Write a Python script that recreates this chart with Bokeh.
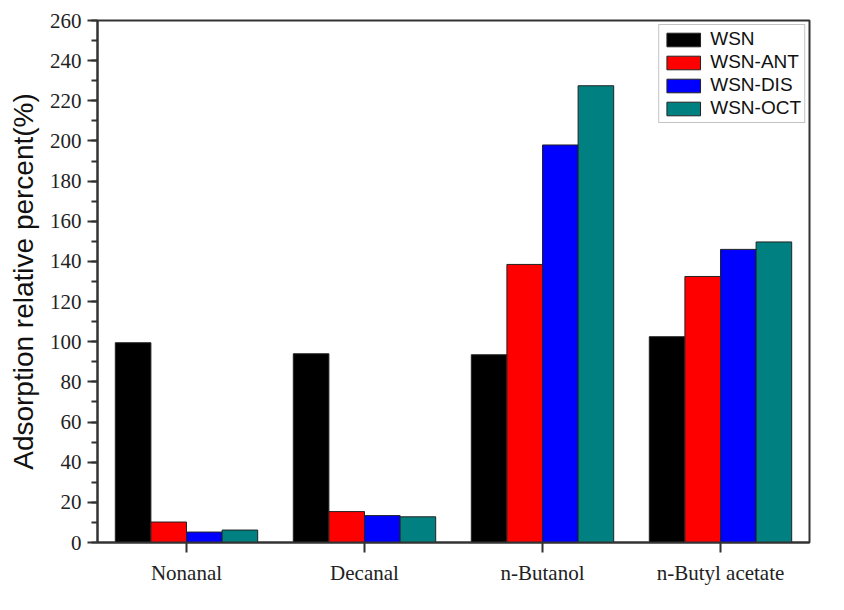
from bokeh.plotting import figure
from bokeh.models import ColumnDataSource, FactorRange, Range1d, Legend, LegendItem, SingleIntervalTicker
from bokeh.transform import dodge
from bokeh.embed import file_html
from bokeh.resources import INLINE

categories = ["Nonanal", "Decanal", "n-Butanol", "n-Butyl acetate"]
series = ["WSN", "WSN-ANT", "WSN-DIS", "WSN-OCT"]
wsn = [99.5, 94.0, 93.5, 102.5]
wsn_ant = [10.2, 15.4, 138.5, 132.5]
wsn_dis = [5.2, 13.4, 198.0, 146.0]
wsn_oct = [6.2, 12.8, 227.5, 149.7]
colors = ["#000000", "#ff0000", "#0000ff", "#008080"]
offsets = [-0.3, -0.1, 0.1, 0.3]

source = ColumnDataSource(data=dict(cat=categories, WSN=wsn, ANT=wsn_ant, DIS=wsn_dis, OCT=wsn_oct))
keys = ["WSN", "ANT", "DIS", "OCT"]

p = figure(width=836, height=600, x_range=FactorRange(*categories, range_padding=0),
           y_range=Range1d(0, 260), output_backend="svg", toolbar_location=None,
           min_border_left=97, min_border_right=27, min_border_top=20, min_border_bottom=58)
p.x_range.range_padding = 0

renderers = []
for k, c, off in zip(keys, colors, offsets):
    r = p.vbar(x=dodge("cat", off, range=p.x_range), top=k, width=0.2, source=source,
               fill_color=c, line_color="#222222", line_width=1)
    renderers.append(r)

legend = Legend(items=[LegendItem(label=s, renderers=[r]) for s, r in zip(series, renderers)],
                location="top_right", margin=4, padding=3, spacing=1,
                glyph_width=42, glyph_height=17, label_height=17, label_standoff=6,
                label_text_font="Liberation Sans", label_text_font_size="19px",
                label_text_color="#111111",
                border_line_color="#888888", border_line_width=1.5,
                background_fill_alpha=1.0)
p.add_layout(legend, "center")

p.xgrid.visible = False
p.ygrid.visible = False
p.outline_line_color = "#333333"
p.outline_line_width = 2
p.background_fill_color = "white"
p.border_fill_color = "white"

p.yaxis.ticker = SingleIntervalTicker(interval=20, num_minor_ticks=2)
p.yaxis.axis_label = "Adsorption relative percent(%)"
p.yaxis.axis_label_text_font = "Liberation Sans"
p.yaxis.axis_label_text_font_size = "28px"
p.yaxis.axis_label_text_font_style = "normal"
p.yaxis.axis_label_text_color = "#111111"
p.yaxis.axis_label_standoff = 8
for ax in [p.xaxis[0], p.yaxis[0]]:
    ax.axis_line_color = "#333333"
    ax.axis_line_width = 2
    ax.major_tick_line_color = "#333333"
    ax.major_tick_line_width = 2
    ax.major_tick_out = 10
    ax.major_tick_in = 0
    ax.minor_tick_line_color = "#333333"
    ax.minor_tick_line_width = 2
    ax.minor_tick_out = 6
    ax.minor_tick_in = 0
    ax.major_label_text_font = "Liberation Serif"
    ax.major_label_text_font_size = "21px"
    ax.major_label_text_color = "#222222"
p.yaxis.major_label_standoff = 6
p.xaxis.major_label_standoff = 8
p.xaxis.major_label_orientation = "horizontal"
p.xaxis.group_text_font_size = "0px"

open("out.html", "w").write(file_html(p, INLINE))
